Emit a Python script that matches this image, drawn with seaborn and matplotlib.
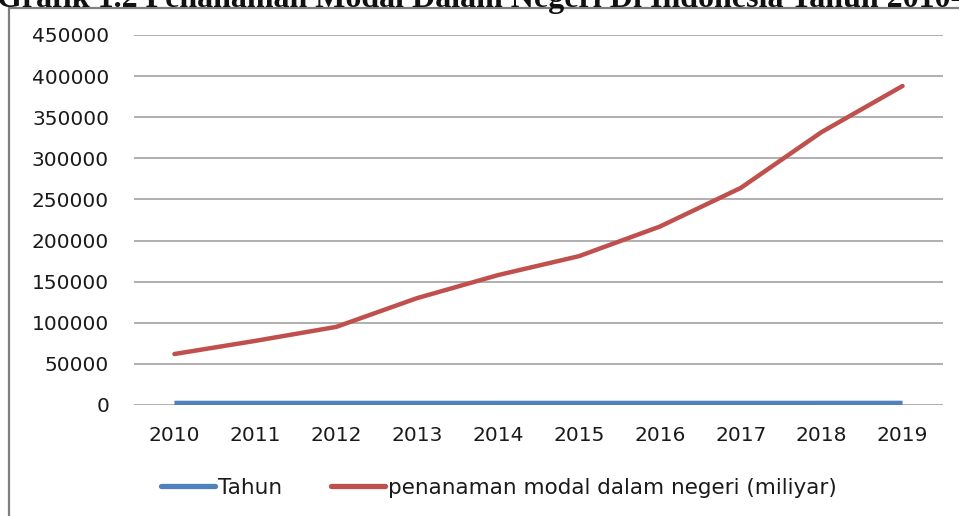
import matplotlib
matplotlib.use("Agg")
import matplotlib.pyplot as plt
import matplotlib.patches as mpatches
from matplotlib.lines import Line2D
import seaborn as sns
import pandas as pd

years = [2010, 2011, 2012, 2013, 2014, 2015, 2016, 2017, 2018, 2019]
tahun = [2010, 2011, 2012, 2013, 2014, 2015, 2016, 2017, 2018, 2019]
pmdn = [62000, 78000, 95000, 130000, 158000, 181000, 217000, 264000, 332000, 388000]
series_names = ["Tahun", "penanaman modal dalam negeri (miliyar)"]
series_colors = ["#4F81BD", "#C0504D"]
y_ticks = [0, 50000, 100000, 150000, 200000, 250000, 300000, 350000, 400000, 450000]
title = "Grafik 1.2 Penanaman Modal Dalam Negeri Di Indonesia Tahun 2010-2019"

df = pd.DataFrame({
    "year": years * 2,
    "value": tahun + pmdn,
    "series": [series_names[0]] * len(years) + [series_names[1]] * len(years),
})

sns.set_theme(style="white")
plt.rcParams["font.family"] = ["DejaVu Sans"]

fig = plt.figure(figsize=(9.59, 5.16), dpi=100)
ax = fig.add_axes([134 / 959, 1 - 405 / 516, (943 - 134) / 959, (405 - 35) / 516])

sns.lineplot(data=df, x="year", y="value", hue="series", palette=series_colors,
             hue_order=series_names, ax=ax, legend=False, zorder=3)
for line, lw, cap in zip(ax.lines, [3.8, 3.2], ["butt", "round"]):
    line.set_linewidth(lw)
    line.set_solid_capstyle(cap)

ax.set_xlim(years[0] - 0.5, years[-1] + 0.5)
ax.set_ylim(0, 450000)
ax.set_yticks(y_ticks)
ax.set_yticklabels([str(v) for v in y_ticks])
ax.set_xticks(years)
ax.set_xticklabels([str(y) for y in years])
ax.yaxis.grid(True, color="#9a9a9a", linewidth=1.1)
ax.xaxis.grid(False)
for s in ax.spines.values():
    s.set_visible(False)
ax.tick_params(axis="y", length=0, pad=18, labelsize=14.5, colors="#1a1a1a")
ax.tick_params(axis="x", length=0, pad=15, labelsize=14.5, colors="#1a1a1a")
ax.set_xlabel("")
ax.set_ylabel("")

handles = [Line2D([0], [0], color=c, lw=3.8) for c in series_colors]
leg = fig.legend(handles, series_names, loc="center left",
                 bbox_to_anchor=(150 / 959, 1 - 488 / 516),
                 ncol=2, frameon=False, fontsize=15.5, handlelength=2.5,
                 handletextpad=0.15, columnspacing=2.3, borderpad=0.0)
for t in leg.get_texts():
    t.set_color("#1a1a1a")

# outer border of chart
fig.patches.append(mpatches.Rectangle((9 / 959, -0.1), 1.2, 1 - 8 / 516 + 0.1,
                                      transform=fig.transFigure, fill=False,
                                      edgecolor="#7f7f7f", linewidth=1.6, zorder=0))

fig.text(-0.003, 1 - 7 / 516, title, fontsize=23, fontweight="bold",
         family="Liberation Serif", ha="left", va="baseline", color="#111111")

fig.savefig("out.png", dpi=100)
